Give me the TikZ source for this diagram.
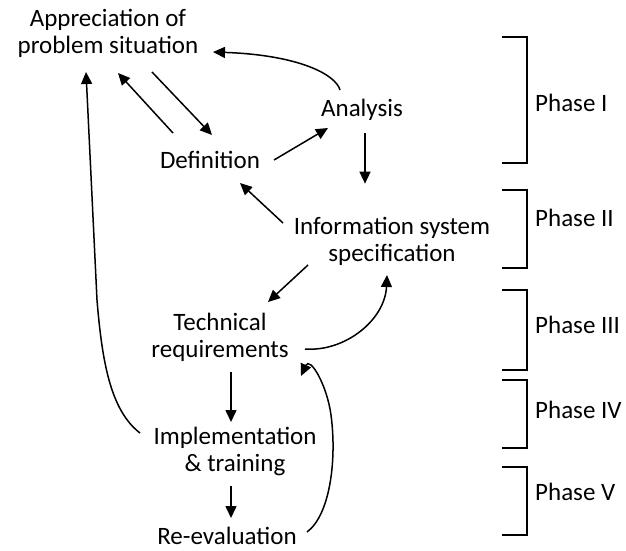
\documentclass[tikz,border=0pt]{standalone}
\usepackage{fontspec}
\setmainfont{Carlito}
\usetikzlibrary{arrows.meta}
\begin{document}
\begin{tikzpicture}[x=1pt,y=-1pt,
  lbl/.style={align=center,inner sep=0pt,font=\fontsize{25}{27}\selectfont},
  plbl/.style={anchor=west,inner sep=0pt,font=\fontsize{25}{27}\selectfont},
  conn/.style={line width=1.5pt,-{Triangle[length=12pt,width=11pt]}},
  brk/.style={line width=1.5pt}]
\useasboundingbox (0,0) rectangle (626,550);
% nodes
\node[lbl] (app) at (108,33) {Appreciation of\\problem situation};
\node[lbl] (ana) at (362,110) {Analysis};
\node[lbl] (def) at (210,160) {Definition};
\node[lbl] (info) at (392,241) {Information system\\specification};
\node[lbl] (tech) at (220,337) {Technical\\requirements};
\node[lbl] (impl) at (235,451) {Implementation\\\&~training};
\node[lbl,anchor=base] (reev) at (227,544) {Re-evaluation};
% connectors
\draw[conn] ([shift={(-22,-20)}]ana.center) .. controls (336,75) and (300,55) .. ([shift={(105,19)}]app.center);
\draw[conn] ([shift={(-37,-27)}]def.center) -- ([shift={(10,40)}]app.center);
\draw[conn] ([shift={(44,39)}]app.center) -- ([shift={(2,-25)}]def.center);
\draw[conn] ([shift={(64,0)}]def.center) -- ([shift={(-34,18)}]ana.center);
\draw[conn] ([shift={(3,23)}]ana.center) -- ([shift={(3,-33)}]ana.center |- info.north);
\draw[conn] ([shift={(-109,-18)}]info.center) -- ([shift={(30,23)}]def.center);
\draw[conn] ([shift={(-84,24)}]info.center) -- ([shift={(48,-35)}]tech.center);
\draw[conn] ([shift={(85,12)}]tech.center) .. controls (345,352) and (385,320) .. ([shift={(-5,34)}]info.center);
\draw[conn] ([shift={(11,35)}]tech.center) -- ([shift={(-4,-29)}]impl.center);
\draw[conn] ([shift={(-4,35)}]impl.center) -- ([shift={(4,-26)}]reev.base);
\draw[conn] ([shift={(80,-12)}]reev.base) .. controls (330,515) and (337,460) .. (331,415) .. controls (327,385) and (310,356) .. ([shift={(81,39)}]tech.center);
\draw[conn] ([shift={(-95,-18)}]impl.center) .. controls (110,410) and (102,360) .. (97,300) -- ([shift={(-22,39)}]app.center);
% phase brackets
\draw[brk] (502,37) -- (527,37) -- (527,163) -- (502,163);
\node[plbl] (p1) at (535,103) {Phase I};
\draw[brk] (502,190) -- (527,190) -- (527,268) -- (502,268);
\node[plbl] (p2) at (535,218) {Phase II};
\draw[brk] (502,290) -- (527,290) -- (527,370) -- (502,370);
\node[plbl] (p3) at (535,325) {Phase III};
\draw[brk] (502,380) -- (527,380) -- (527,448) -- (502,448);
\node[plbl] (p4) at (535,410) {Phase IV};
\draw[brk] (502,467) -- (527,467) -- (527,535) -- (502,535);
\node[plbl] (p5) at (535,492) {Phase V};
\end{tikzpicture}
\end{document}
